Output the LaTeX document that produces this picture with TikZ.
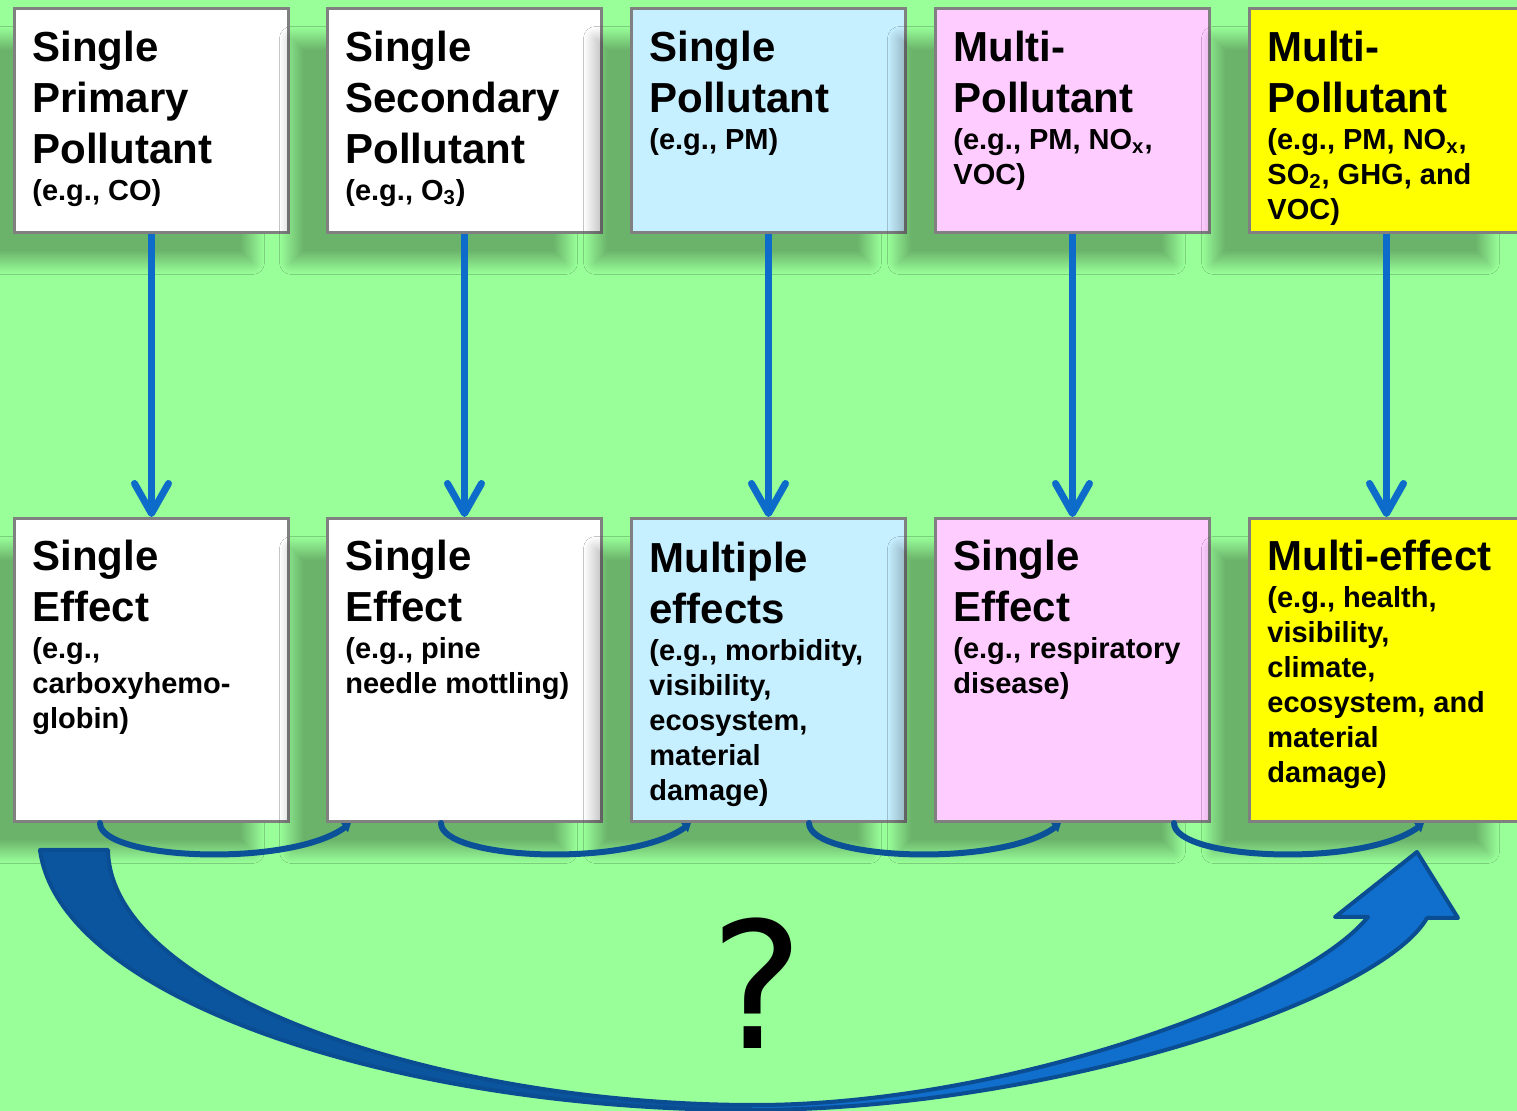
\documentclass[tikz,border=0pt]{standalone}
\usepackage{fontspec}
\setmainfont{Liberation Sans}
\newfontfamily\qfont{DejaVu Sans}
\usetikzlibrary{positioning,calc,arrows.meta,shadows.blur}

\definecolor{fond}{HTML}{99FF99}
\definecolor{bord}{HTML}{808080}
\definecolor{ciel}{HTML}{C6EFFF}
\definecolor{rose}{HTML}{FFCCFF}
\definecolor{jaune}{HTML}{FFFF00}
\definecolor{bleu}{HTML}{0D6CC9}
\definecolor{bleuarc}{HTML}{0A5197}
\definecolor{grandfonce}{HTML}{0B559E}
\definecolor{grandclair}{HTML}{106FCC}
\definecolor{bordfleche}{HTML}{0A4D92}

\newcommand{\titre}{\fontsize{21}{25.3}\selectfont\bfseries\frenchspacing\raggedright}
\newcommand{\exemple}[1]{\par\vspace{1pt}{\fontsize{14.5}{17.5}\selectfont\bfseries
    \spaceskip=0pt \xspaceskip=0pt #1\par}}

\tikzset{
    boite/.style={draw=bord, line width=1.5pt, inner sep=0pt, minimum width=137pt,
        anchor=north west,
        blur shadow={shadow xshift=-18pt, shadow yshift=-15pt,
            shadow blur radius=6pt, shadow blur steps=24, shadow opacity=30}},
    haut/.style={boite, minimum height=112pt},
    bas/.style={boite, minimum height=151.5pt},
    texte/.style={anchor=north west, inner sep=0pt, text width=125pt,
        font=\titre},
    fleche/.style={draw=bleu, line width=3.5pt,
        -{Straight Barb[length=15pt,width=17pt,round]}},
    boucle/.style={draw=bleuarc, line width=3pt, line cap=round,
        -{Triangle[length=4pt,width=5.5pt]}}
}

\begin{document}
\begin{tikzpicture}[x=0.5pt, y=-0.5pt]
\useasboundingbox (0,0) rectangle (1517,1111);
\fill[fond] (0,0) rectangle (1517,1111);

% Polluants
\node[haut, fill=white] (p1) at (13,7) {};
\node[haut, fill=white, right=18pt of p1] (p2) {};
\node[haut, fill=ciel, right=13.5pt of p2] (p3) {};
\node[haut, fill=rose, right=13.5pt of p3] (p4) {};
\node[haut, fill=jaune, right=18.5pt of p4] (p5) {};

% Effets
\node[bas, fill=white, below=141.5pt of p1] (e1) {};
\node[bas, fill=white, below=141.5pt of p2] (e2) {};
\node[bas, fill=ciel, below=141.5pt of p3] (e3) {};
\node[bas, fill=rose, below=141.5pt of p4] (e4) {};
\node[bas, fill=jaune, below=141.5pt of p5] (e5) {};

% Textes
\node[texte] (tp1) at ($(p1.north west)+(19,24)$)
    {Single\\Primary\\Pollutant\exemple{(e.g., CO)}};
\node[texte] (tp2) at ($(p2.north west)+(19,24)$)
    {Single\\Secondary\\Pollutant\exemple{(e.g., O\textsubscript{3})}};
\node[texte] (tp3) at ($(p3.north west)+(19,24)$)
    {Single\\Pollutant\exemple{(e.g., PM)}};
\node[texte] (tp4) at ($(p4.north west)+(19,24)$)
    {Multi-\\Pollutant\exemple{(e.g., PM, NO\textsubscript{x},\\VOC)}};
\node[texte] (tp5) at ($(p5.north west)+(19,24)$)
    {Multi-\\Pollutant\exemple{(e.g., PM, NO\textsubscript{x},\\SO\textsubscript{2}, GHG, and\\VOC)}};
\node[texte] (te1) at ($(e1.north west)+(19,23)$)
    {Single\\Effect\exemple{(e.g.,\\carboxyhemo-\\globin)}};
\node[texte] (te2) at ($(e2.north west)+(19,23)$)
    {Single\\Effect\exemple{(e.g., pine\\needle mottling)}};
\node[texte] (te3) at ($(e3.north west)+(19,25)$)
    {Multiple\\effects\exemple{(e.g., morbidity,\\visibility,\\ecosystem,\\material\\damage)}};
\node[texte] (te4) at ($(e4.north west)+(19,23)$)
    {Single\\Effect\exemple{(e.g., respiratory\\disease)}};
\node[texte] (te5) at ($(e5.north west)+(19,23)$)
    {Multi-effect\exemple{(e.g., health,\\visibility,\\climate,\\ecosystem, and\\material\\damage)}};

% Fleches verticales
\foreach \i in {1,...,5}
    \draw[fleche] (p\i) -- (e\i);

% Petites boucles
\draw[boucle] ($(e1.south west)+(87,0)$) .. controls +(0,37) and +(-62,45) .. ($(e2.south west)+(25,0)$);
\draw[boucle] ($(e2.south west)+(115,0)$) .. controls +(0,37) and +(-62,45) .. ($(e3.south west)+(61,0)$);
\draw[boucle] ($(e3.south west)+(179,0)$) .. controls +(0,37) and +(-62,45) .. ($(e4.south west)+(127,0)$);
\draw[boucle] ($(e4.south west)+(240,0)$) .. controls +(0,37) and +(-62,45) .. ($(e5.south west)+(176,0)$);

% Grande fleche
\fill[grandfonce] (40,850) .. controls (60,1000) and (400,1110) .. (750,1110)
    -- (755,1105) .. controls (430,1105) and (110,990) .. (108,850) -- cycle;
\fill[grandclair] (750,1110) .. controls (1050,1110) and (1380,1000) .. (1427,918)
    -- (1458,918) -- (1417,852) -- (1335,917) -- (1368,917)
    .. controls (1300,1000) and (1000,1105) .. (755,1105) -- cycle;
\draw[bordfleche, line width=2pt, line join=round]
    (40,850) .. controls (60,1000) and (400,1110) .. (750,1110)
    .. controls (1050,1110) and (1380,1000) .. (1427,918)
    -- (1458,918) -- (1417,852) -- (1335,917) -- (1368,917)
    .. controls (1300,1000) and (1000,1105) .. (755,1105)
    .. controls (430,1105) and (110,990) .. (108,850) -- cycle;

\node (q) at (757,983) {\qfont\fontsize{88}{88}\selectfont ?};
\end{tikzpicture}
\end{document}
